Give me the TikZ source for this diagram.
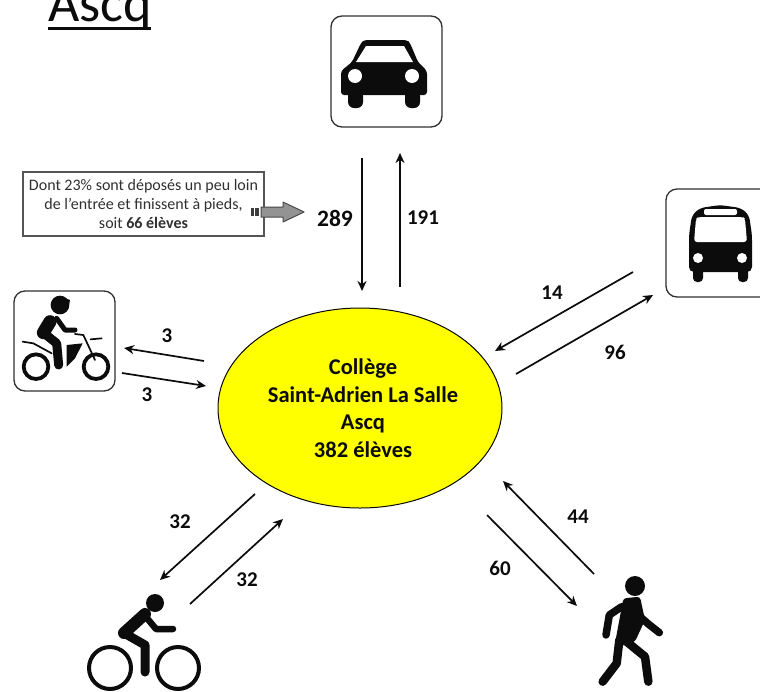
\documentclass[tikz,border=0pt]{standalone}
\usepackage{fontspec}
\setmainfont{Carlito}
\usetikzlibrary{arrows.meta,shapes.geometric}
\definecolor{ink}{RGB}{12,12,12}
\definecolor{oval yellow}{RGB}{255,255,0}
\tikzset{
  flow/.style={draw=ink,line width=1.7pt,-{Stealth[length=10pt,width=9pt]}},
  qty/.style={font=\fontsize{23.5}{25}\selectfont\bfseries,text=ink,inner sep=0pt},
  iconbox/.style={draw=ink!85!white,line width=1.3pt,rounded corners=11pt,fill=white},
  limb/.style={draw=ink,line cap=round,line join=round}
}
\begin{document}
\begin{tikzpicture}[x=1pt,y=-1pt]
\useasboundingbox (0,0) rectangle (760,691);
\clip (0,0) rectangle (760,691);
\fill[white] (0,0) rectangle (760,691);

% title
\node[anchor=base west,inner sep=0pt,font=\fontsize{54}{56}\selectfont,text=ink] (title) at (48,21) {Ascq};
\fill[ink] (48,26.5) rectangle (151,30);

% college
\node[ellipse,fill=oval yellow,draw=ink!70!black,line width=1pt,minimum width=284pt,minimum height=200pt,inner sep=0pt] (oval) at (360,408) {};
\node[align=center,font=\fontsize{22.5}{27.5}\selectfont\bfseries,text=ink,inner sep=0pt] (college) at (363,408)
  {Collège\\Saint-Adrien La Salle\\Ascq\\382 élèves};

% car
\draw[iconbox] (331,16) rectangle (442,127);
\begin{scope}
  \fill[ink,rounded corners=3pt] (341,95) -- (341,71) -- (352,62) -- (361,43) -- (364,40) -- (407,40) -- (410,43) -- (418,62) -- (427,71) -- (427,95) -- cycle;
  \fill[ink,rounded corners=6pt] (348,90) rectangle (363,108);
  \fill[ink,rounded corners=6pt] (405,90) rectangle (420,108);
  \fill[white] (356,62) -- (366,46) -- (404,46) -- (413,62) -- cycle;
  \fill[white] (355,76) circle [radius=7];
  \fill[white] (412,76) circle [radius=7];
\end{scope}

% bus
\draw[iconbox] (666,189) rectangle (775,297);
\fill[ink,rounded corners=5pt] (689,272) -- (689,235) -- (692,215) -- (700,208) -- (720,205) -- (741,208) -- (749,215) -- (752,235) -- (752,272) -- cycle;
\fill[ink,rounded corners=4pt] (693,265) rectangle (703,282);
\fill[ink,rounded corners=4pt] (738,265) rectangle (748,282);
\fill[white,rounded corners=2pt] (704,209) rectangle (737,215);
\fill[white,rounded corners=3pt] (694,242) -- (696,219) -- (698,217) -- (743,217) -- (745,219) -- (747,242) -- cycle;
\fill[white] (698,258) circle [radius=5];
\fill[white] (742,258) circle [radius=5];

% motorbike
\draw[iconbox] (14,291) rectangle (115,391);
\begin{scope}[shift={(0,280)},scale=1/3]
  \draw[limb,line width=3.8pt] (108,260) circle [radius=37];
  \draw[limb,line width=3.8pt] (288,260) circle [radius=37];
  \fill[ink] (180,75) circle [radius=28];
  \fill[ink] (152,72) -- (175,48) -- (210,60) -- (205,85) -- cycle;
  \draw[limb,line width=13pt] (150,125) -- (130,158);
  \draw[limb,line width=9pt] (130,158) -- (170,190) -- (176,255);
  \draw[limb,line width=5pt] (170,115) -- (195,150) -- (225,150);
  \fill[ink] (200,195) -- (248,190) -- (225,235) -- (200,260) -- cycle;
  \draw[limb,line width=1.7pt] (225,162) -- (250,165) -- (285,240);
  \draw[limb,line width=1.7pt] (272,178) -- (305,175);
  \draw[limb,line width=1.7pt] (68,185) -- (100,190) -- (155,220);
\end{scope}

% bicycle
\begin{scope}
  \draw[limb,line width=4pt] (110,668) circle [radius=21];
  \draw[limb,line width=4pt] (178,668) circle [radius=21];
  \fill[ink] (155,603) circle [radius=9];
  \draw[limb,line width=12pt] (145,614) -- (124,633);
  \draw[limb,line width=9pt] (124,633) -- (145,645) -- (145,672);
  \draw[limb,line width=6.5pt] (146,617) -- (156,629) -- (173,629);
\end{scope}

% walker
\begin{scope}[shift={(580,560)},scale=1/3]
  \fill[ink] (165,78) circle [radius=30];
  \fill[ink,rounded corners=3pt] (130,115) -- (180,110) -- (195,180) -- (165,245) -- (125,258) -- (105,250) -- cycle;
  \draw[limb,line width=7.5pt] (125,140) -- (88,165) -- (78,225);
  \draw[limb,line width=7.5pt] (180,170) -- (205,192) -- (238,218);
  \draw[limb,line width=8.5pt] (118,240) -- (110,310) -- (68,365);
  \draw[limb,line width=8.5pt] (140,245) -- (195,290) -- (205,365);
\end{scope}

% connector ends
\coordinate (carA) at (362,158);  \coordinate (carB) at (362,291);
\coordinate (carC) at (400,287);  \coordinate (carD) at (400,153);
\coordinate (busA) at (633,272);  \coordinate (busB) at (495,351);
\coordinate (busC) at (516,374);  \coordinate (busD) at (653,295);
\coordinate (motoA) at (204,361); \coordinate (motoB) at (124,348);
\coordinate (motoC) at (122,373); \coordinate (motoD) at (206,386);
\coordinate (bikeA) at (255,494); \coordinate (bikeB) at (160,580);
\coordinate (bikeC) at (190,604); \coordinate (bikeD) at (283,519);
\coordinate (walkA) at (594,574); \coordinate (walkB) at (503,481);
\coordinate (walkC) at (487,515); \coordinate (walkD) at (577,606);

\draw[flow] (carA) -- (carB);
\draw[flow] (carC) -- (carD);
\draw[flow] (busA) -- (busB);
\draw[flow] (busC) -- (busD);
\draw[flow] (motoA) -- (motoB);
\draw[flow] (motoC) -- (motoD);
\draw[flow] (bikeA) -- (bikeB);
\draw[flow] (bikeC) -- (bikeD);
\draw[flow] (walkA) -- (walkB);
\draw[flow] (walkC) -- (walkD);

% quantities
\node[qty] (n289) at (335,218) {289};
\node[qty,font=\fontsize{21}{23}\selectfont\bfseries] (n191) at (423,218) {191};
\node[qty,font=\fontsize{21}{23}\selectfont\bfseries] (n14) at (552,293) {14};
\node[qty,font=\fontsize{21}{23}\selectfont\bfseries] (n96) at (615,352) {96};
\node[qty,font=\fontsize{21}{23}\selectfont\bfseries] (n3a) at (167,336) {3};
\node[qty,font=\fontsize{21}{23}\selectfont\bfseries] (n3b) at (147,395) {3};
\node[qty,font=\fontsize{21}{23}\selectfont\bfseries] (n32a) at (180,522) {32};
\node[qty,font=\fontsize{21}{23}\selectfont\bfseries] (n32b) at (247,580) {32};
\node[qty,font=\fontsize{21}{23}\selectfont\bfseries] (n44) at (578,517) {44};
\node[qty,font=\fontsize{21}{23}\selectfont\bfseries] (n60) at (500,568) {60};

% callout
\node[draw=ink!70!white,line width=1.2pt,minimum width=241pt,minimum height=64pt,inner sep=0pt,align=center,
      font=\fontsize{16}{19}\selectfont,text=ink!85!white] (note) at (143.5,204)
  {Dont 23\% sont déposés un peu loin\\de l'entrée et finissent à pieds,\\soit \textbf{66 élèves}};
\fill[ink!80!white] (251,208) rectangle (254,216);
\fill[ink!80!white] (255,208) rectangle (259,216);
\draw[fill=gray!85!white,draw=ink!75!white,line width=1pt,line join=round]
  (261,207) -- (283,207) -- (283,202) -- (304,212) -- (283,222) -- (283,217) -- (261,217) -- cycle;
\end{tikzpicture}
\end{document}
